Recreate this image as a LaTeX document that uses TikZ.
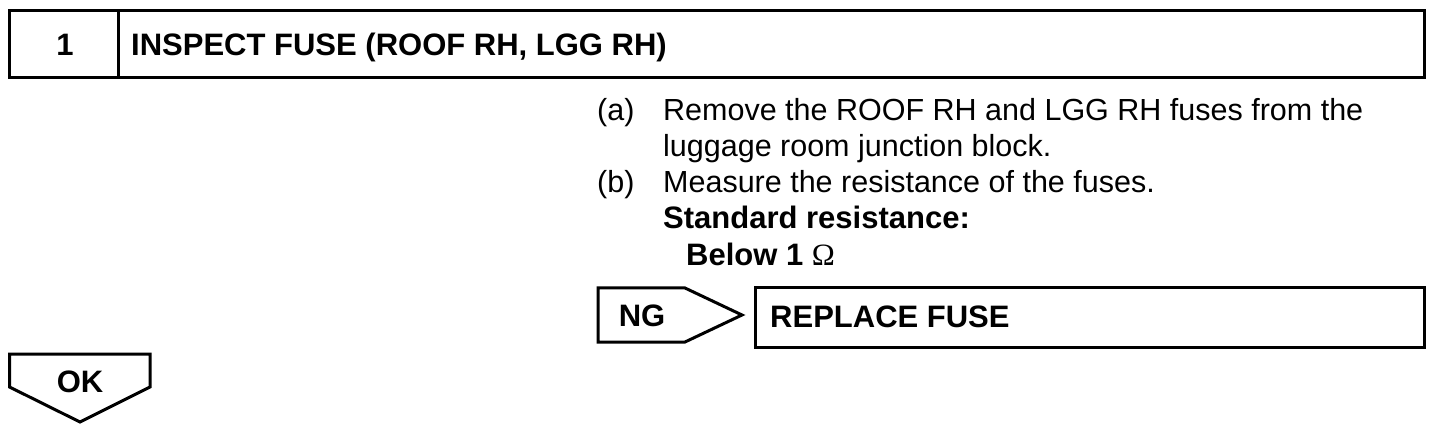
\documentclass[tikz,border=0pt]{standalone}
\usepackage{fontspec}
\setmainfont{Liberation Sans}
\newfontfamily\ohmfont{Liberation Serif}
\usetikzlibrary{calc,positioning}
\tikzset{
  % box styles
  % gebruik: \draw[kader] (p1) rectangle (p2);
  kader/.style={draw=black,line width=3pt,line join=miter},
  % text styles (all text sits on its base line)
  tekst/.style={inner sep=0pt,anchor=base west,font=\fontsize{30.5}{36}\selectfont},
  kop/.style={tekst,font=\fontsize{31}{36}\selectfont\bfseries},
  kopmidden/.style={kop,anchor=base},
}

\begin{document}
\begin{tikzpicture}[x=1pt,y=-1pt]
  \useasboundingbox (0,0) rectangle (1456,430);
  % step header
  \draw[kader] (9.5,10.5) rectangle (1424,77.5);
  \draw[kader] (118,10.5) -- (118,77.5);
  \node[kopmidden] (nr) at (65,56) {1};
  \node[kop] (titel) at (131,56) {INSPECT FUSE (ROOF RH, LGG RH)};
  % procedure
  \node[tekst] (a) at (597,121) {(a)};
  \node[tekst] (atxt) at (663,121) {Remove the ROOF RH and LGG RH fuses from the};
  \node[tekst] (atxt2) at (663,157) {luggage room junction block.};
  \node[tekst] (b) at (597,193) {(b)};
  \node[tekst] (btxt) at (663,193) {Measure the resistance of the fuses.};
  \node[kop] (std) at (663,229) {Standard resistance:};
  \node[kop] (waarde) at (686,266) {Below 1 {\ohmfont\mdseries Ω}};
  % NG branch
  \draw[kader] (598,288) -- (685,288) -- (742,315) -- (685,342) -- (598,342) -- cycle;
  \node[kopmidden] (ng) at (642,326) {NG};
  \draw[kader] (755,288) rectangle (1424,347);
  \node[kop] (vervang) at (770,327) {REPLACE FUSE};
  % OK branch
  \draw[kader] (9.5,354) -- (150,354) -- (150,387) -- (80,422) -- (9.5,387) -- cycle;
  \node[kopmidden] (ok) at (80,392) {OK};
\end{tikzpicture}
\end{document}
